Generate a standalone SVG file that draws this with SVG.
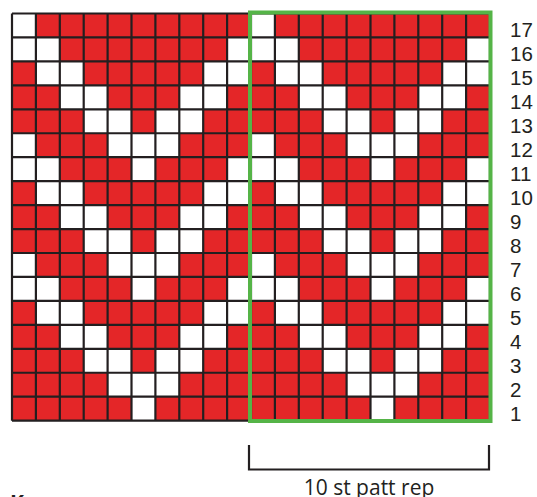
<svg xmlns="http://www.w3.org/2000/svg" xmlns:xlink="http://www.w3.org/1999/xlink" width="537" height="497" viewBox="0 0 537 497">
  <style>
    .red { fill: #e42628; }
    .w { fill: #ffffff; }
    .grid { fill: none; stroke: #231f20; stroke-width: 2.2; }
    .rep { fill: none; stroke: #55b447; stroke-width: 4; }
    .num { font-family: "Liberation Sans", Arial, sans-serif; font-size: 20.5px; fill: #231f20; }
    .lbl { font-family: "Open Sans", "Liberation Sans", sans-serif; font-size: 21px; fill: #231f20; }
    .brk { fill: none; stroke: #231f20; stroke-width: 2.2; }
  </style>
  <defs>
    <g id="half">
      <!-- row 17 -->
      <rect class="w" x="12" y="13.5" width="23.9" height="23.95"/>
      <!-- row 16 -->
      <rect class="w" x="12" y="37.45" width="23.9" height="23.95"/>
      <rect class="w" x="35.9" y="37.45" width="23.9" height="23.95"/>
      <rect class="w" x="227.1" y="37.45" width="23.9" height="23.95"/>
      <!-- row 15 -->
      <rect class="w" x="35.9" y="61.4" width="23.9" height="23.95"/>
      <rect class="w" x="59.8" y="61.4" width="23.9" height="23.95"/>
      <rect class="w" x="203.2" y="61.4" width="23.9" height="23.95"/>
      <rect class="w" x="227.1" y="61.4" width="23.9" height="23.95"/>
      <!-- row 14 -->
      <rect class="w" x="59.8" y="85.35" width="23.9" height="23.95"/>
      <rect class="w" x="83.7" y="85.35" width="23.9" height="23.95"/>
      <rect class="w" x="179.3" y="85.35" width="23.9" height="23.95"/>
      <rect class="w" x="203.2" y="85.35" width="23.9" height="23.95"/>
      <!-- row 13 -->
      <rect class="w" x="83.7" y="109.3" width="23.9" height="23.95"/>
      <rect class="w" x="107.6" y="109.3" width="23.9" height="23.95"/>
      <rect class="w" x="155.4" y="109.3" width="23.9" height="23.95"/>
      <rect class="w" x="179.3" y="109.3" width="23.9" height="23.95"/>
      <!-- row 12 -->
      <rect class="w" x="12" y="133.25" width="23.9" height="23.95"/>
      <rect class="w" x="107.6" y="133.25" width="23.9" height="23.95"/>
      <rect class="w" x="131.5" y="133.25" width="23.9" height="23.95"/>
      <rect class="w" x="155.4" y="133.25" width="23.9" height="23.95"/>
      <!-- row 11 -->
      <rect class="w" x="12" y="157.2" width="23.9" height="23.95"/>
      <rect class="w" x="35.9" y="157.2" width="23.9" height="23.95"/>
      <rect class="w" x="131.5" y="157.2" width="23.9" height="23.95"/>
      <rect class="w" x="227.1" y="157.2" width="23.9" height="23.95"/>
      <!-- row 10 -->
      <rect class="w" x="35.9" y="181.15" width="23.9" height="23.95"/>
      <rect class="w" x="59.8" y="181.15" width="23.9" height="23.95"/>
      <rect class="w" x="203.2" y="181.15" width="23.9" height="23.95"/>
      <rect class="w" x="227.1" y="181.15" width="23.9" height="23.95"/>
      <!-- row 9 -->
      <rect class="w" x="59.8" y="205.1" width="23.9" height="23.95"/>
      <rect class="w" x="83.7" y="205.1" width="23.9" height="23.95"/>
      <rect class="w" x="179.3" y="205.1" width="23.9" height="23.95"/>
      <rect class="w" x="203.2" y="205.1" width="23.9" height="23.95"/>
      <!-- row 8 -->
      <rect class="w" x="83.7" y="229.05" width="23.9" height="23.95"/>
      <rect class="w" x="107.6" y="229.05" width="23.9" height="23.95"/>
      <rect class="w" x="155.4" y="229.05" width="23.9" height="23.95"/>
      <rect class="w" x="179.3" y="229.05" width="23.9" height="23.95"/>
      <!-- row 7 -->
      <rect class="w" x="12" y="253" width="23.9" height="23.95"/>
      <rect class="w" x="107.6" y="253" width="23.9" height="23.95"/>
      <rect class="w" x="131.5" y="253" width="23.9" height="23.95"/>
      <rect class="w" x="155.4" y="253" width="23.9" height="23.95"/>
      <!-- row 6 -->
      <rect class="w" x="12" y="276.95" width="23.9" height="23.95"/>
      <rect class="w" x="35.9" y="276.95" width="23.9" height="23.95"/>
      <rect class="w" x="131.5" y="276.95" width="23.9" height="23.95"/>
      <rect class="w" x="227.1" y="276.95" width="23.9" height="23.95"/>
      <!-- row 5 -->
      <rect class="w" x="35.9" y="300.9" width="23.9" height="23.95"/>
      <rect class="w" x="59.8" y="300.9" width="23.9" height="23.95"/>
      <rect class="w" x="203.2" y="300.9" width="23.9" height="23.95"/>
      <rect class="w" x="227.1" y="300.9" width="23.9" height="23.95"/>
      <!-- row 4 -->
      <rect class="w" x="59.8" y="324.85" width="23.9" height="23.95"/>
      <rect class="w" x="83.7" y="324.85" width="23.9" height="23.95"/>
      <rect class="w" x="179.3" y="324.85" width="23.9" height="23.95"/>
      <rect class="w" x="203.2" y="324.85" width="23.9" height="23.95"/>
      <!-- row 3 -->
      <rect class="w" x="83.7" y="348.8" width="23.9" height="23.95"/>
      <rect class="w" x="107.6" y="348.8" width="23.9" height="23.95"/>
      <rect class="w" x="155.4" y="348.8" width="23.9" height="23.95"/>
      <rect class="w" x="179.3" y="348.8" width="23.9" height="23.95"/>
      <!-- row 2 -->
      <rect class="w" x="107.6" y="372.75" width="23.9" height="23.95"/>
      <rect class="w" x="131.5" y="372.75" width="23.9" height="23.95"/>
      <rect class="w" x="155.4" y="372.75" width="23.9" height="23.95"/>
      <!-- row 1 -->
      <rect class="w" x="131.5" y="396.7" width="23.9" height="23.95"/>
    </g>
  </defs>

  <g id="chart">
    <rect class="red" x="12" y="13.5" width="478" height="407.15"/>
    <use xlink:href="#half" href="#half"/>
    <use xlink:href="#half" href="#half" x="239"/>
  </g>

  <g id="gridlines">
    <path class="grid" d="M12,13.5V420.65 M35.9,13.5V420.65 M59.8,13.5V420.65 M83.7,13.5V420.65 M107.6,13.5V420.65 M131.5,13.5V420.65 M155.4,13.5V420.65 M179.3,13.5V420.65 M203.2,13.5V420.65 M227.1,13.5V420.65 M251,13.5V420.65 M274.9,13.5V420.65 M298.8,13.5V420.65 M322.7,13.5V420.65 M346.6,13.5V420.65 M370.5,13.5V420.65 M394.4,13.5V420.65 M418.3,13.5V420.65 M442.2,13.5V420.65 M466.1,13.5V420.65 M490,13.5V420.65 M12,13.5H490 M12,37.45H490 M12,61.4H490 M12,85.35H490 M12,109.3H490 M12,133.25H490 M12,157.2H490 M12,181.15H490 M12,205.1H490 M12,229.05H490 M12,253H490 M12,276.95H490 M12,300.9H490 M12,324.85H490 M12,348.8H490 M12,372.75H490 M12,396.7H490 M12,420.65H490"/>
  </g>

  <g id="repeat-box">
    <rect class="rep" x="250" y="12.5" width="240.5" height="408.5"/>
  </g>

  <g id="row-numbers" class="num">
    <text x="510" y="36.7">17</text>
    <text x="510" y="60.7">16</text>
    <text x="510" y="84.7">15</text>
    <text x="510" y="108.7">14</text>
    <text x="510" y="132.7">13</text>
    <text x="510" y="156.7">12</text>
    <text x="510" y="180.7">11</text>
    <text x="510" y="204.7">10</text>
    <text x="510" y="228.7">9</text>
    <text x="510" y="252.7">8</text>
    <text x="510" y="276.7">7</text>
    <text x="510" y="300.7">6</text>
    <text x="510" y="324.7">5</text>
    <text x="510" y="348.7">4</text>
    <text x="510" y="372.7">3</text>
    <text x="510" y="396.7">2</text>
    <text x="510" y="420.7">1</text>
  </g>

  <g id="repeat-bracket">
    <path class="brk" d="M249,445V469.5H489V445"/>
    <text class="lbl" x="369" y="494.5" text-anchor="middle">10 st patt rep</text>
  </g>

  <g id="key-heading">
    <text x="10" y="510" font-family="'Open Sans', 'Liberation Sans', sans-serif" font-size="21" font-weight="bold" fill="#231f20">K</text>
  </g>
</svg>
